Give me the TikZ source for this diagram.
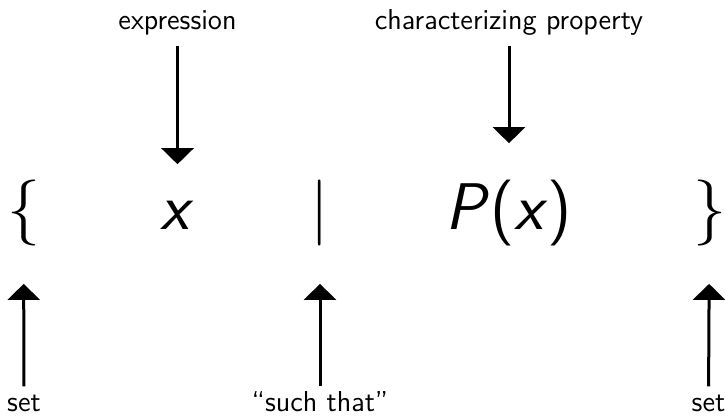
\RequirePackage{fix-cm}
\documentclass[tikz,border=0pt]{standalone}
\usepackage{amsmath,amssymb}
\usetikzlibrary{arrows.meta}

\begin{document}
\begin{tikzpicture}[x=0.5pt, y=0.5pt, every node/.style={inner sep=0pt, font=\sffamily\fontsize{14.4}{17}\selectfont}, >={Triangle[length=8pt,width=16pt]},
	sym/.style={anchor=base, font=\sffamily\fontsize{33}{40}\selectfont},
	lbl/.style={anchor=base, text height=10pt, text depth=2.8pt},
	down/.style={->, line width=1.5pt, shorten <=5.2pt, shorten >=18.5pt},
	up/.style={->, line width=1.5pt, shorten <=2.6pt, shorten >=18.5pt}]
	\useasboundingbox (0,0) rectangle (725,416);
	\node[sym] (lbrace) at (23.5,186) {$\{$};
	\node[sym] (elem) at (177.5,186) {\textit{x}};
	\node[sym] (bar) at (320,186) {$\mid$};
	\node[sym] (prop) at (509,186) {\textit{P}(\textit{x})};
	\node[sym] (rbrace) at (709.5,186) {$\}$};
	\node[lbl] (lexpr) at (177.5,386) {expression};
	\node[lbl] (lprop) at (509,386) {characterizing property};
	\node[lbl] (lset) at (24,4) {set};
	\node[lbl] (lsuch) at (320,4) {``such that''};
	\node[lbl] (rset) at (708.5,4) {set};
	\draw[down] (lexpr) -- (elem);
	\draw[down] (lprop) -- (prop);
	\draw[up] (lset) -- (lbrace);
	\draw[up] (lsuch) -- (bar);
	\draw[up] (rset) -- (rbrace);
\end{tikzpicture}
\end{document}
